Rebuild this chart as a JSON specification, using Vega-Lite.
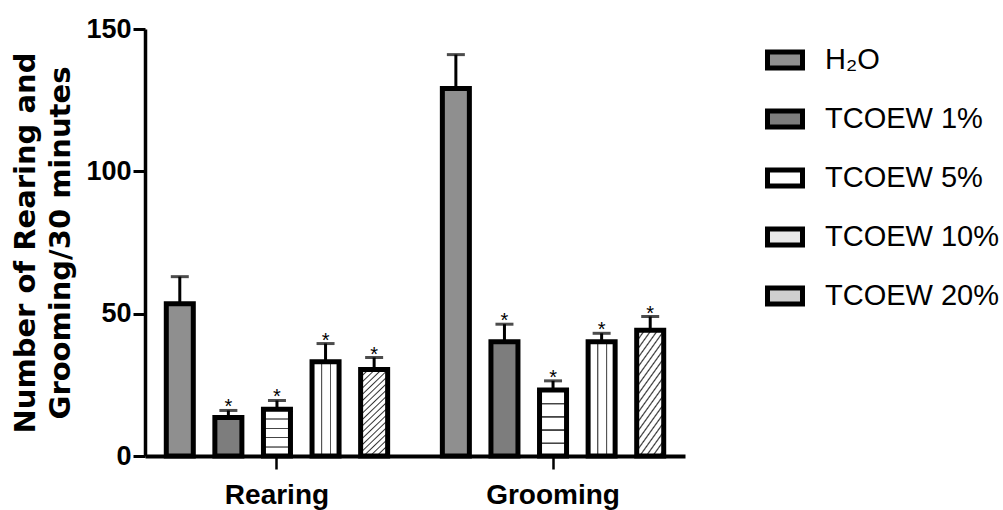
{
  "$schema": "https://vega.github.io/schema/vega-lite/v6.json",
  "width": 540,
  "height": 427,
  "autosize": {"type": "none"},
  "padding": {"left": 145, "top": 29, "right": 318, "bottom": 54},
  "config": {
    "view": {"stroke": null},
    "font": "Liberation Sans",
    "axis": {"grid": false, "domainColor": "black", "tickColor": "black", "labelColor": "black", "titleColor": "black", "labelFont": "Liberation Sans", "titleFont": "DejaVu Sans"}
  },
  "data": {
    "values": [
      {"behavior": "Rearing", "group": "H₂O", "mean": 53.5, "upper": 63, "sig": ""},
      {"behavior": "Rearing", "group": "TCOEW 1%", "mean": 13.5, "upper": 16, "sig": "*"},
      {"behavior": "Rearing", "group": "TCOEW 5%", "mean": 16.4, "upper": 19.5, "sig": "*"},
      {"behavior": "Rearing", "group": "TCOEW 10%", "mean": 33.1, "upper": 39.5, "sig": "*"},
      {"behavior": "Rearing", "group": "TCOEW 20%", "mean": 30.4, "upper": 34.6, "sig": "*"},
      {"behavior": "Grooming", "group": "H₂O", "mean": 129.1, "upper": 141, "sig": ""},
      {"behavior": "Grooming", "group": "TCOEW 1%", "mean": 40.1, "upper": 46.3, "sig": "*"},
      {"behavior": "Grooming", "group": "TCOEW 5%", "mean": 23.2, "upper": 26.4, "sig": "*"},
      {"behavior": "Grooming", "group": "TCOEW 10%", "mean": 40.1, "upper": 43.1, "sig": "*"},
      {"behavior": "Grooming", "group": "TCOEW 20%", "mean": 44.2, "upper": 49, "sig": "*"}
    ]
  },
  "encoding": {
    "x": {
      "field": "behavior", "type": "nominal", "sort": ["Rearing", "Grooming"],
      "scale": {"paddingInner": 0.1, "paddingOuter": 0.028},
      "axis": {"title": null, "labelAngle": 0, "labelFontSize": 28, "labelFontWeight": "bold", "tickSize": 13, "tickWidth": 2.5, "domainWidth": 4, "labelPadding": 12}
    },
    "xOffset": {
      "field": "group", "type": "nominal",
      "sort": ["H₂O", "TCOEW 1%", "TCOEW 5%", "TCOEW 10%", "TCOEW 20%"],
      "scale": {"paddingInner": 0.444, "paddingOuter": 0.279}
    }
  },
  "layer": [
    {
      "mark": {"type": "rule", "strokeWidth": 3, "color": "black"},
      "encoding": {
        "y": {"field": "mean", "type": "quantitative", "scale": {"domain": [0, 150], "nice": false},
          "title": ["Number of Rearing and", "Grooming/30 minutes"],
          "axis": {"values": [0, 50, 100, 150], "labelFontSize": 27, "labelFontWeight": "bold", "titleFontSize": 29, "titleFontWeight": "bold", "titleLineHeight": 35, "titlePadding": 10, "tickSize": 12, "tickWidth": 3, "domainWidth": 3.5, "labelPadding": 2}},
        "y2": {"field": "upper"}
      }
    },
    {
      "mark": {"type": "bar", "strokeWidth": 5},
      "encoding": {
        "y": {"field": "mean", "type": "quantitative", "title": ["Number of Rearing and", "Grooming/30 minutes"]},
        "stroke": {
          "field": "group", "type": "nominal",
          "scale": {
            "domain": ["H₂O", "TCOEW 1%", "TCOEW 5%", "TCOEW 10%", "TCOEW 20%"],
            "range": ["black", "black", "black", "black", "black"]
          },
          "legend": {
            "title": null, "orient": "none", "legendX": 620, "legendY": 11,
            "symbolType": "M-1,-0.457H1V0.457H-1Z", "symbolSize": 1225,
            "symbolStrokeWidth": 5, "symbolOpacity": 1,
            "labelFontSize": 29, "labelFont": "Liberation Sans", "labelColor": "black",
            "labelOffset": 20, "rowPadding": 21, "labelLimit": 0, "padding": 0
          }
        },
        "fill": {
          "field": "group", "type": "nominal",
          "scale": {
            "domain": ["H₂O", "TCOEW 1%", "TCOEW 5%", "TCOEW 10%", "TCOEW 20%"],
            "range": ["#8f8f8f", "#7d7d7d", "white", "#e8e8e8", "#cfcfcf"]
          },
          "condition": [
            {"test": "datum.group === 'TCOEW 5%'", "value": {"gradient": "linear", "x1": 0, "y1": 0, "x2": 0, "y2": 1, "stops": [
                {"offset": 0, "color": "white"}, {"offset": 0.19, "color": "white"}, {"offset": 0.2, "color": "#444"}, {"offset": 0.215, "color": "#444"}, {"offset": 0.225, "color": "white"},
                {"offset": 0.39, "color": "white"}, {"offset": 0.4, "color": "#444"}, {"offset": 0.415, "color": "#444"}, {"offset": 0.425, "color": "white"},
                {"offset": 0.59, "color": "white"}, {"offset": 0.6, "color": "#444"}, {"offset": 0.615, "color": "#444"}, {"offset": 0.625, "color": "white"},
                {"offset": 0.79, "color": "white"}, {"offset": 0.8, "color": "#444"}, {"offset": 0.815, "color": "#444"}, {"offset": 0.825, "color": "white"},
                {"offset": 1, "color": "white"}]}},
            {"test": "datum.group === 'TCOEW 10%'", "value": {"gradient": "linear", "x1": 0, "y1": 0, "x2": 1, "y2": 0, "stops": [
                {"offset": 0, "color": "white"}, {"offset": 0.33, "color": "white"}, {"offset": 0.345, "color": "#555"}, {"offset": 0.375, "color": "#555"}, {"offset": 0.39, "color": "white"},
                {"offset": 0.66, "color": "white"}, {"offset": 0.675, "color": "#555"}, {"offset": 0.705, "color": "#555"}, {"offset": 0.72, "color": "white"},
                {"offset": 1, "color": "white"}]}},
            {"test": "datum.group === 'TCOEW 20%'", "value": {"gradient": "linear", "x1": 0, "y1": 0, "x2": 0.36, "y2": 1.2, "stops": [
                {"offset": 0, "color": "white"}, {"offset": 0.012, "color": "#333"}, {"offset": 0.024, "color": "white"},
                {"offset": 0.0556, "color": "white"}, {"offset": 0.0676, "color": "#333"}, {"offset": 0.0796, "color": "white"},
                {"offset": 0.1111, "color": "white"}, {"offset": 0.1231, "color": "#333"}, {"offset": 0.1351, "color": "white"},
                {"offset": 0.1667, "color": "white"}, {"offset": 0.1787, "color": "#333"}, {"offset": 0.1907, "color": "white"},
                {"offset": 0.2222, "color": "white"}, {"offset": 0.2342, "color": "#333"}, {"offset": 0.2462, "color": "white"},
                {"offset": 0.2778, "color": "white"}, {"offset": 0.2898, "color": "#333"}, {"offset": 0.3018, "color": "white"},
                {"offset": 0.3333, "color": "white"}, {"offset": 0.3453, "color": "#333"}, {"offset": 0.3573, "color": "white"},
                {"offset": 0.3889, "color": "white"}, {"offset": 0.4009, "color": "#333"}, {"offset": 0.4129, "color": "white"},
                {"offset": 0.4444, "color": "white"}, {"offset": 0.4564, "color": "#333"}, {"offset": 0.4684, "color": "white"},
                {"offset": 0.5, "color": "white"}, {"offset": 0.512, "color": "#333"}, {"offset": 0.524, "color": "white"},
                {"offset": 0.5556, "color": "white"}, {"offset": 0.5676, "color": "#333"}, {"offset": 0.5796, "color": "white"},
                {"offset": 0.6111, "color": "white"}, {"offset": 0.6231, "color": "#333"}, {"offset": 0.6351, "color": "white"},
                {"offset": 0.6667, "color": "white"}, {"offset": 0.6787, "color": "#333"}, {"offset": 0.6907, "color": "white"},
                {"offset": 0.7222, "color": "white"}, {"offset": 0.7342, "color": "#333"}, {"offset": 0.7462, "color": "white"},
                {"offset": 0.7778, "color": "white"}, {"offset": 0.7898, "color": "#333"}, {"offset": 0.8018, "color": "white"},
                {"offset": 0.8333, "color": "white"}, {"offset": 0.8453, "color": "#333"}, {"offset": 0.8573, "color": "white"},
                {"offset": 0.8889, "color": "white"}, {"offset": 0.9009, "color": "#333"}, {"offset": 0.9129, "color": "white"},
                {"offset": 0.9444, "color": "white"}, {"offset": 0.9564, "color": "#333"}, {"offset": 0.9684, "color": "white"},
                {"offset": 1, "color": "white"}]}}
          ],
          "legend": {
            "title": null, "orient": "none", "legendX": 620, "legendY": 11,
            "symbolType": "M-1,-0.457H1V0.457H-1Z", "symbolSize": 1225,
            "symbolStrokeWidth": 5, "symbolOpacity": 1,
            "labelFontSize": 29, "labelFont": "Liberation Sans", "labelColor": "black",
            "labelOffset": 20, "rowPadding": 21, "labelLimit": 0, "padding": 0
          }
        }
      }
    },
    {
      "mark": {"type": "tick", "orient": "horizontal", "size": 18, "thickness": 3, "color": "black"},
      "encoding": {
        "y": {"field": "upper", "type": "quantitative", "title": ["Number of Rearing and", "Grooming/30 minutes"]}
      }
    },
    {
      "mark": {"type": "text", "fontSize": 20, "baseline": "alphabetic", "dy": 3, "font": "Liberation Sans", "color": "black"},
      "encoding": {
        "y": {"field": "upper", "type": "quantitative", "title": ["Number of Rearing and", "Grooming/30 minutes"]},
        "text": {"field": "sig"}
      }
    }
  ]
}
